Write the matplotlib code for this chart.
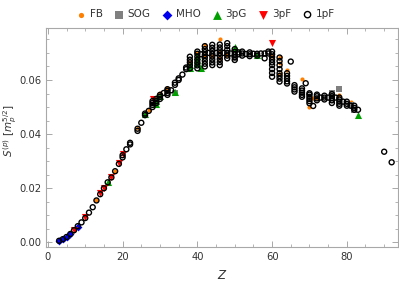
import matplotlib
matplotlib.use("Agg")
import matplotlib.pyplot as plt
from matplotlib.ticker import MultipleLocator

# FB (orange)
z_fb = [13, 18, 24, 27, 30, 32, 38, 40, 42, 42, 44, 46, 46, 46, 48, 50,
        60, 62, 62, 62, 64, 68, 70, 71, 72, 78, 81]
s_fb = [0.0155, 0.0263, 0.0424, 0.0490, 0.0553, 0.0572, 0.0668, 0.0700, 0.0730, 0.0692, 0.0690, 0.0751, 0.0705, 0.0680, 0.0692, 0.0690,
        0.0690, 0.0686, 0.0662, 0.0622, 0.0637, 0.0603, 0.0499, 0.0532, 0.0532, 0.0545, 0.0520]

# SOG (gray squares)
z_sog = [34, 50, 76, 78, 81, 82]
s_sog = [0.0552, 0.0680, 0.0553, 0.0567, 0.0508, 0.0489]

# MHO (blue diamonds)
z_mho = [3, 4, 5, 6, 8]
s_mho = [0.0006, 0.0012, 0.0020, 0.0031, 0.0056]

# 3pG (green up triangles)
z_3pg = [16, 26, 29, 29, 29, 30, 34, 38, 38, 40, 40, 40, 41, 50, 56, 83]
s_3pg = [0.0222, 0.0474, 0.0512, 0.0522, 0.0532, 0.0540, 0.0557, 0.0643, 0.0655, 0.0662, 0.0675, 0.0688, 0.0643, 0.0722, 0.0692, 0.0471]

# 3pF (red down triangles)
z_3pf = [7, 10, 14, 15, 17, 19, 20, 28, 60]
s_3pf = [0.0046, 0.0092, 0.0182, 0.0202, 0.0242, 0.0294, 0.0325, 0.0528, 0.0738]

# 1pF (open circles)
z_1pf = [3, 4, 5, 6, 7, 8, 9, 10, 11, 12, 13, 14, 15, 16, 17, 18, 19,
         20, 20, 21, 22, 22, 24, 24, 25, 26, 26, 27,
         28, 28, 28, 28, 29, 29, 29, 30, 30, 30, 31,
         32, 32, 32, 32, 33, 34, 34, 35, 35, 36, 37, 37,
         38, 38, 38, 38, 38,
         40, 40, 40, 40, 40, 40, 40,
         41,
         42, 42, 42, 42, 42, 42, 42, 42,
         43,
         44, 44, 44, 44, 44, 44, 44, 44,
         45,
         46, 46, 46, 46, 46, 46, 46, 46,
         47,
         48, 48, 48, 48, 48, 48,
         49,
         50, 50, 50, 50, 50,
         51, 51, 52, 52, 52, 53, 54, 54, 54, 55, 56, 56, 57, 58, 58, 59, 59,
         60, 60, 60, 60, 60, 60, 60, 60, 60,
         62, 62, 62, 62, 62, 62, 62, 62,
         64, 64, 64, 64, 64, 65,
         66, 66, 66, 66,
         68, 68, 68, 68, 68, 69,
         70, 70, 70, 70, 70, 70, 71,
         72, 72, 72, 72, 73, 74, 74, 74, 75,
         76, 76, 76, 76, 76, 77,
         78, 78, 78, 78, 78, 79,
         80, 80, 80, 81, 82, 82, 82, 83,
         90, 92]
s_1pf = [0.0006, 0.0012, 0.0020, 0.0031, 0.0045, 0.0060, 0.0074, 0.0090, 0.0110, 0.0130, 0.0155, 0.0178, 0.0200, 0.0222, 0.0240, 0.0263, 0.0290,
         0.0314, 0.0322, 0.0344, 0.0362, 0.0368, 0.0412, 0.0420, 0.0442, 0.0470, 0.0476, 0.0486,
         0.0500, 0.0508, 0.0515, 0.0522, 0.0515, 0.0522, 0.0530, 0.0530, 0.0538, 0.0545, 0.0552,
         0.0545, 0.0552, 0.0560, 0.0566, 0.0562, 0.0582, 0.0590, 0.0600, 0.0606, 0.0620, 0.0640, 0.0646,
         0.0643, 0.0655, 0.0665, 0.0675, 0.0686,
         0.0643, 0.0654, 0.0665, 0.0675, 0.0686, 0.0697, 0.0705,
         0.0695,
         0.0650, 0.0660, 0.0671, 0.0682, 0.0692, 0.0703, 0.0714, 0.0725,
         0.0700,
         0.0655, 0.0665, 0.0676, 0.0687, 0.0697, 0.0708, 0.0719, 0.0730,
         0.0700,
         0.0655, 0.0666, 0.0677, 0.0688, 0.0699, 0.0710, 0.0720, 0.0731,
         0.0700,
         0.0680, 0.0690, 0.0700, 0.0712, 0.0725, 0.0736,
         0.0698,
         0.0674, 0.0684, 0.0694, 0.0704, 0.0714,
         0.0695, 0.0702, 0.0690, 0.0698, 0.0705, 0.0696, 0.0688, 0.0695, 0.0702, 0.0697, 0.0690, 0.0697, 0.0698, 0.0680, 0.0698, 0.0705, 0.0698,
         0.0612, 0.0626, 0.0640, 0.0655, 0.0665, 0.0675, 0.0685, 0.0695, 0.0705,
         0.0594, 0.0605, 0.0615, 0.0625, 0.0640, 0.0655, 0.0670, 0.0683,
         0.0587, 0.0595, 0.0605, 0.0615, 0.0625, 0.0668,
         0.0557, 0.0565, 0.0573, 0.0581,
         0.0538, 0.0545, 0.0553, 0.0561, 0.0569, 0.0588,
         0.0514, 0.0522, 0.0530, 0.0538, 0.0546, 0.0551, 0.0504,
         0.0525, 0.0532, 0.0540, 0.0546, 0.0535, 0.0528, 0.0535, 0.0542, 0.0535,
         0.0515, 0.0525, 0.0533, 0.0540, 0.0548, 0.0535,
         0.0505, 0.0512, 0.0520, 0.0528, 0.0535, 0.0520,
         0.0505, 0.0512, 0.0520, 0.0505, 0.0490, 0.0497, 0.0505, 0.0490,
         0.0335, 0.0296]

frame_col = "#a8a8a8"
text_col = "#333333"

fig = plt.figure(figsize=(3.99, 2.83), dpi=100)
ax = fig.add_axes([0.1153, 0.1272, 0.8822, 0.7738])

ax.scatter(z_fb, s_fb, s=9, marker="o", color="#ff8000", lw=0, zorder=2, label="FB")
ax.scatter(z_sog, s_sog, s=20, marker="s", color="#808080", lw=0, zorder=2, label="SOG")
ax.scatter(z_mho, s_mho, s=16, marker="D", color="#0000ee", lw=0, zorder=2, label="MHO")
ax.scatter(z_3pg, s_3pg, s=26, marker="^", color="#00a000", lw=0, zorder=2, label="3pG")
ax.scatter(z_3pf, s_3pf, s=26, marker="v", color="#ff0000", lw=0, zorder=2, label="3pF")
ax.scatter(z_1pf, s_1pf, s=13, marker="o", facecolor="none", edgecolor="black", lw=1.0, zorder=3, label="1pF")

ax.set_xlim(-0.5, 93.7)
ax.set_ylim(-0.0017, 0.0792)
ax.xaxis.set_major_locator(MultipleLocator(20))
ax.xaxis.set_minor_locator(MultipleLocator(5))
ax.yaxis.set_major_locator(MultipleLocator(0.02))
ax.yaxis.set_minor_locator(MultipleLocator(0.005))
ax.yaxis.set_major_formatter(plt.FuncFormatter(lambda v, p: f"{v:.2f}"))

for sp in ax.spines.values():
    sp.set_color(frame_col)
    sp.set_linewidth(0.8)
ax.tick_params(which="both", direction="in", top=True, right=True, color=frame_col,
               labelsize=7.2, labelcolor=text_col)
ax.tick_params(which="major", length=4, width=0.7)
ax.tick_params(which="minor", length=2, width=0.6)

ax.set_xlabel("$Z$", fontsize=8.5, color=text_col, labelpad=5)
ax.set_ylabel(r"$S^{(p)}\ [m_p^{5/2}]$", fontsize=7.5, color=text_col)
ax.yaxis.set_label_coords(-0.076, 0.53)

fig.legend(loc="upper center", bbox_to_anchor=(0.515, 1.0), ncol=6, frameon=False,
           fontsize=7.5, handletextpad=0.3, columnspacing=1.1, handlelength=1.0,
           markerscale=1.25, labelcolor=text_col)

fig.savefig("out.png", dpi=100)
